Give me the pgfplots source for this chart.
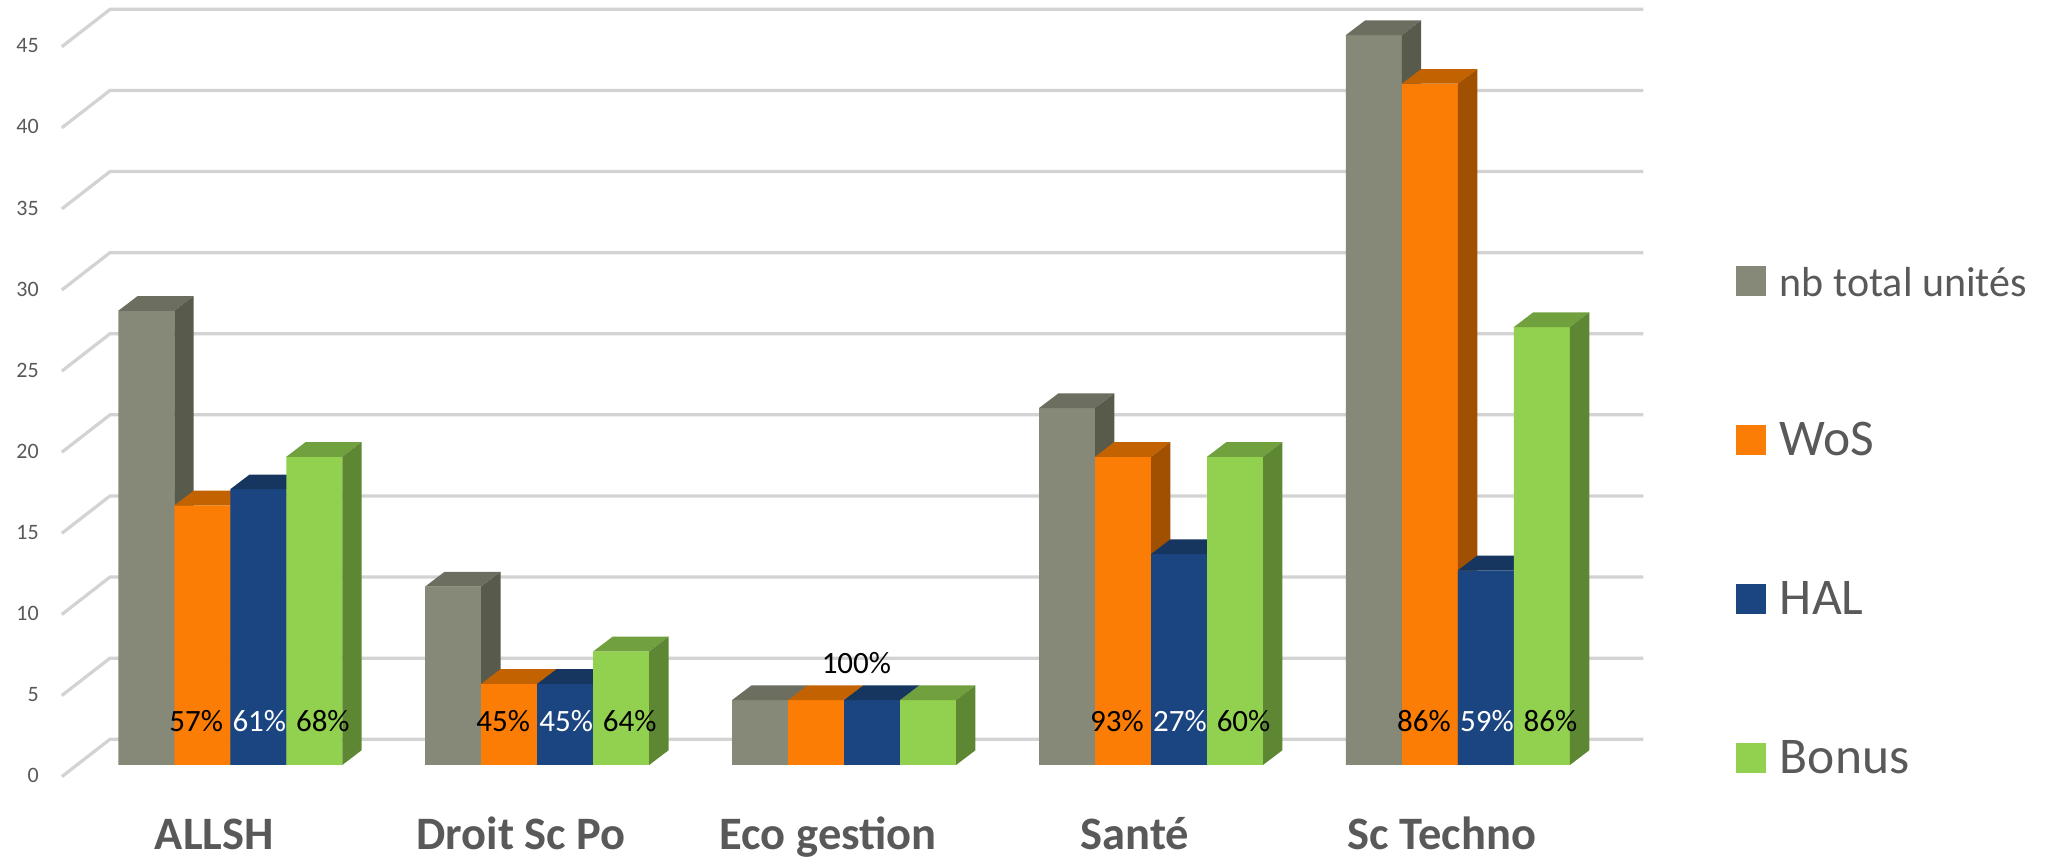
\documentclass[border=0pt]{standalone}
\usepackage{fontspec}
\setmainfont{Carlito}
\usepackage{pgfplots}
\usepackage{pgfplotstable}
\pgfplotsset{compat=1.18}

\definecolor{textgray}{HTML}{595959}
\definecolor{gridc}{HTML}{D3D3D3}
\definecolor{gfront}{HTML}{868978}
\definecolor{gtop}{HTML}{6C6E5F}
\definecolor{gside}{HTML}{585A4B}
\definecolor{ofront}{HTML}{FB7D06}
\definecolor{otop}{HTML}{C36200}
\definecolor{oside}{HTML}{A14F00}
\definecolor{bfront}{HTML}{1B4580}
\definecolor{btop}{HTML}{16365F}
\definecolor{bside}{HTML}{132F58}
\definecolor{lfront}{HTML}{92D050}
\definecolor{ltop}{HTML}{71A03E}
\definecolor{lside}{HTML}{5E8733}

% x = category index (0 ALLSH ... 4 Sc Techno), v = value
\pgfplotstableread{
x v
0 28
1 11
2 4
3 22
4 45
}\total
\pgfplotstableread{
x v
0 16
1 5
2 4
3 19
4 42
}\wos
\pgfplotstableread{
x v
0 17
1 5
2 4
3 13
4 12
}\hal
\pgfplotstableread{
x v
0 19
1 7
2 4
3 19
4 27
}\bonus

% top and side faces of the 3D bars, from the table values
\newcommand\cubefaces[4]{%
 \pgfplotsinvokeforeach{0,1,2,3,4}{%
  \pgfplotstablegetelem{##1}{v}\of#1%
  \let\cv\pgfplotsretval
  \pgfmathsetmacro\xa{##1+(#2)}%
  \pgfmathsetmacro\xb{##1+(#2)+0.1825}%
  \pgfmathsetmacro\xc{##1+(#2)+0.0629}%
  \pgfmathsetmacro\xd{##1+(#2)+0.2454}%
  \pgfmathsetmacro\yt{\cv+0.906}%
  \addplot[fill=#3,draw=none,forget plot] coordinates {(\xa,\cv)(\xc,\yt)(\xd,\yt)(\xb,\cv)};%
  \addplot[fill=#4,draw=none,forget plot] coordinates {(\xb,0)(\xd,0.906)(\xd,\yt)(\xb,\cv)};%
 }}

\begin{document}
\begin{tikzpicture}
\begin{axis}[
  x=122.76pt, y=6.488pt,
  xmin=-0.7504, xmax=5.952, ymin=-5.98, ymax=47.16,
  clip=false,
  axis line style={draw=none},
  tick style={draw=none},
  major tick length=0pt,
  xtick={0,1,2,3,4},
  xticklabels={ALLSH,Droit Sc Po,Eco gestion,Santé,Sc Techno},
  xticklabel style={font=\bfseries\fontsize{18.6}{22}\selectfont, text=textgray, anchor=base, inner sep=0pt, yshift=4.8pt, xshift=-6.4pt},
  ytick={0,5,...,45},
  yticklabel style={font=\fontsize{8.8}{10}\selectfont, text=textgray, anchor=east, inner sep=0pt, xshift=15.7pt, yshift=-4.3pt},
  /pgf/number format/assume math mode=true,
  legend image code/.code={\fill[#1] (0pt,-6pt) rectangle (12pt,6pt); \path (17.6pt,0pt);},
  legend cell align=left,
  legend style={at={(0.8439,0.6914)}, anchor=north west, draw=none, fill=none, inner sep=0pt, outer sep=0pt, row sep=51.6pt,
    font=\fontsize{20.6}{24}\selectfont,
    nodes={inner sep=0pt, text height=12pt, text depth=0pt, text=textgray}},
]
% frame extent (invisible)
\addplot[draw=none,forget plot] coordinates {(-0.7504,-5.98)(5.952,47.16)};

% grid lines (left floor edge + back wall)
\pgfplotsinvokeforeach{0,5,...,45}{%
  \pgfmathsetmacro\gf{#1-0.72}%
  \pgfmathsetmacro\gb{#1+1.584}%
  \addplot[gridc, line width=1.3pt, forget plot] coordinates {(-0.549,\gf)(-0.392,\gb)(4.604,\gb)};
}

% nb total unités
\addplot[ybar, bar width=0.1825, bar shift=-0.27375, fill=gfront, draw=none, forget plot] table[x=x,y=v] {\total};
\cubefaces{\total}{-0.365}{gtop}{gside}
% WoS
\addplot[ybar, bar width=0.1825, bar shift=-0.09125, fill=ofront, draw=none, forget plot] table[x=x,y=v] {\wos};
\cubefaces{\wos}{-0.1825}{otop}{oside}
% HAL
\addplot[ybar, bar width=0.1825, bar shift=0.09125, fill=bfront, draw=none, forget plot] table[x=x,y=v] {\hal};
\cubefaces{\hal}{0}{btop}{bside}
% Bonus
\addplot[ybar, bar width=0.1825, bar shift=0.27375, fill=lfront, draw=none, forget plot] table[x=x,y=v] {\bonus};
\cubefaces{\bonus}{0.1825}{ltop}{lside}

\addlegendimage{fill=gfront, draw=none}
\addlegendentry{\fontsize{16.8}{20}\selectfont nb total unités}
\addlegendimage{fill=ofront, draw=none}
\addlegendentry{WoS}
\addlegendimage{fill=bfront, draw=none}
\addlegendentry{HAL}
\addlegendimage{fill=lfront, draw=none}
\addlegendentry{Bonus}

\tikzset{pct/.style={anchor=base, inner sep=0pt, font=\fontsize{12.4}{14}\selectfont, text=black}}
\node[pct] at (axis cs:-0.111,2.05) {57\%};
\node[pct,text=white] at (axis cs:0.0945,2.05) {61\%};
\node[pct] at (axis cs:0.3015,2.05) {68\%};
\node[pct] at (axis cs:0.889,2.05) {45\%};
\node[pct,text=white] at (axis cs:1.0945,2.05) {45\%};
\node[pct] at (axis cs:1.3015,2.05) {64\%};
\node[pct] at (axis cs:2.04,5.65) {100\%};
\node[pct] at (axis cs:2.889,2.05) {93\%};
\node[pct,text=white] at (axis cs:3.0945,2.05) {27\%};
\node[pct] at (axis cs:3.3015,2.05) {60\%};
\node[pct] at (axis cs:3.889,2.05) {86\%};
\node[pct,text=white] at (axis cs:4.0945,2.05) {59\%};
\node[pct] at (axis cs:4.3015,2.05) {86\%};
\end{axis}
\end{tikzpicture}
\end{document}
